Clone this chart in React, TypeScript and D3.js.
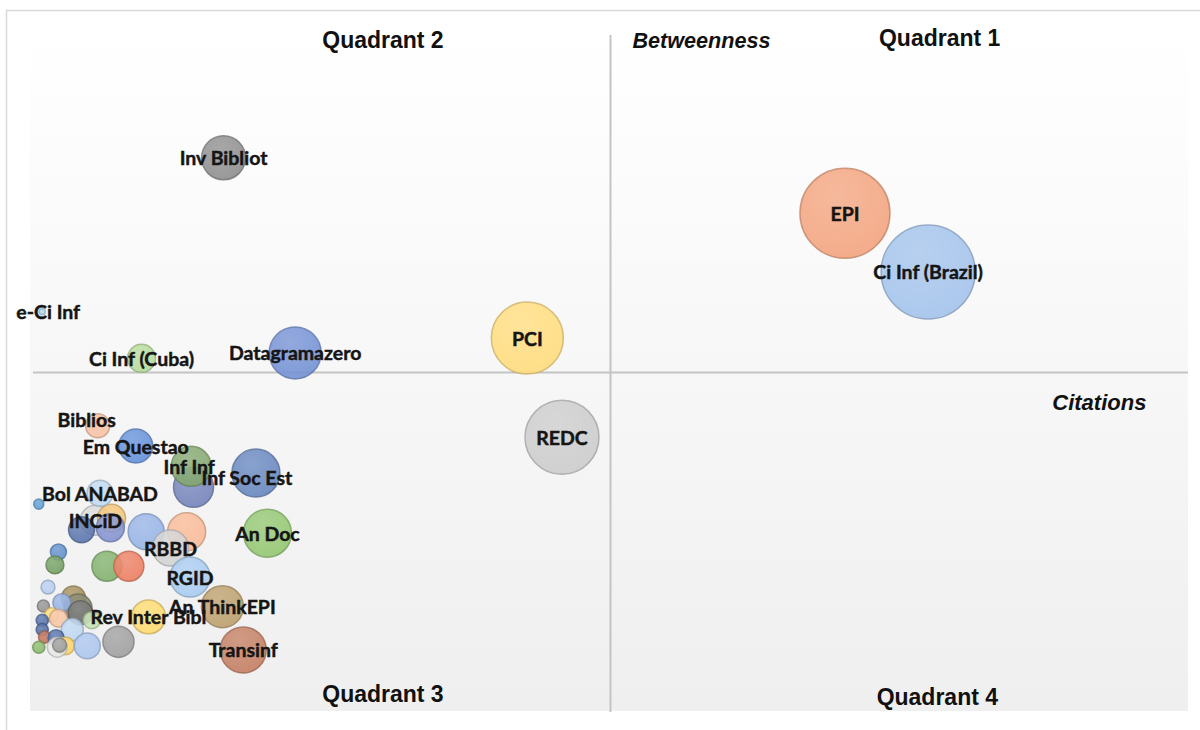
import React from "react";
import * as d3 from "d3";

// ---- Data ----
const journals = [
  "", "", "", "", "", "", "", "", "", "", "", "", "", "", "", "", "", "", "",
  "", "", "", "", "",
  "INCiD", "", "", "Bol ANABAD", "",
  "Biblios", "Em Questao", "", "Inf Inf", "Inf Soc Est",
  "", "", "RBBD", "RGID", "An Doc",
  "Rev Inter Bibl", "An ThinkEPI", "Transinf", "",
  "REDC", "PCI", "Datagramazero", "Ci Inf (Cuba)", "e-Ci Inf", "Inv Bibliot",
  "EPI", "Ci Inf (Brazil)",
];

const citations = [
  1.3, 3.5, 3.9, 0.9, 2.5, 4.1, 1.6, 2.2, 0.8, 5.1, 3.4, 0.8, 1.0, 2.0, 2.8, 4.7, 0.5, 2.1, 2.3,
  2.2, 1.9, 6.4, 8.3, 0.5,
  5.4, 6.8, 4.2, 5.8, 6.7,
  5.6, 8.9, 13.9, 13.7, 19.3,
  9.8, 13.3, 11.9, 13.6, 20.3,
  10.0, 16.4, 18.2, 7.4,
  45.8, 42.8, 22.7, 9.4, 0.8, 16.5,
  70.3, 77.5,
];

const betweenness = [
  18.2, 16.6, 15.1, 15.4, 15.9, 14.4, 14.1, 13.6, 13.3, 13.3, 11.9, 11.9, 10.8, 10.7, 9.5, 9.5, 9.3, 9.3, 9.6,
  23.4, 21.5, 21.3, 21.3, 30.5,
  28.1, 28.4, 26.7, 32.1, 27.0,
  42.1, 39.1, 33.0, 36.1, 35.1,
  26.4, 26.4, 24.0, 19.7, 26.2,
  13.8, 15.3, 8.9, 10.1,
  40.4, 55.1, 52.9, 52.1, 59.0, 81.8,
  73.6, 64.9,
];

const bubbleSize = [
  2.1, 6.3, 8.5, 1.6, 3.5, 6.3, 2.1, 3.5, 1.6, 3.2, 5.3, 1.6, 1.6, 2.8, 3.5, 7.3, 1.6, 4.3, 2.1,
  2.8, 3.5, 9.8, 9.8, 1.1,
  9.8, 8.5, 7.3, 7.3, 8.5,
  6.3, 12.5, 17.4, 17.4, 25.0,
  14.1, 15.7, 14.1, 17.4, 25.0,
  12.5, 19.1, 23.0, 10.5,
  59.4, 56.3, 29.3, 8.5, 0.4, 21.0,
  87.9, 95.9,
];

const palette = [
  "#B4CBEF", "#A08A55", "#7E8064", "#8E8E8E", "#93B1E4", "#6E6E6E", "#FFDB6E", "#F8C3A0", "#4E6DA8", "#C2DFAE", "#BCD5F0", "#4A68A0", "#BE6E55", "#4F6CA8", "#FFD35E", "#A9C4EE", "#86B865", "#E6E6E6", "#9A9A9A",
  "#5B8DCB", "#6F9C5C", "#7DAE68", "#EC7A5C", "#5B9BD5",
  "#DADADA", "#F2C372", "#5470A8", "#BFD8F0", "#7F90CF",
  "#F8BFA0", "#5E8DD8", "#6F80B8", "#7FA46A", "#6283BD",
  "#93B2E6", "#F9B793", "#D2D2D2", "#A6C9F0", "#8FC56C",
  "#FFDA6A", "#B99C68", "#C27A5C", "#9C9C9C",
  "#CBCBCB", "#FFDB77", "#6E8DD3", "#B3DB98", "#A9D6EA", "#8A8A8A",
  "#F3A07A", "#9FC0EA",
];

const labelOffsets: Record<string, [number, number]> = {
  Biblios: [-11, -6],
  "Inf Soc Est": [-9, 4],
  "e-Ci Inf": [6, 0],
  "Inf Inf": [-2, 0],
};

const quadrantLabels = [
  { text: "Quadrant 2", cx: 30.3, cy: 99.3 },
  { text: "Quadrant 1", cx: 78.5, cy: 99.5 },
  { text: "Quadrant 3", cx: 30.3, cy: 2.4 },
  { text: "Quadrant 4", cx: 78.3, cy: 2.0 },
];

const W = 1200;
const H = 730;

export default function App() {
  const xScale = d3.scaleLinear().domain([0, 100]).range([33, 1188]);
  const yScale = d3.scaleLinear().domain([0, 100]).range([710, 35]);
  const rScale = d3.scaleSqrt().domain([0, 100]).range([0, 48]);

  const points = journals.map((name, i) => ({
    name,
    x: citations[i],
    y: betweenness[i],
    s: bubbleSize[i],
    color: palette[i],
  }));

  const labelFont = "Lato, 'Open Sans', sans-serif";
  const titleFont = "'Liberation Sans', Arial, sans-serif";

  return (
    <svg
      width={W}
      height={H}
      style={{ position: "absolute", left: 0, top: 0, background: "#fff" }}
    >
      <defs>
        <linearGradient id="plotBg" x1="0" y1="0" x2="0" y2="1">
          <stop offset="0%" stopColor="#ffffff" />
          <stop offset="100%" stopColor="#efefef" />
        </linearGradient>
        <radialGradient id="shine" cx="40%" cy="30%" r="75%">
          <stop offset="0%" stopColor="#ffffff" stopOpacity={0.15} />
          <stop offset="100%" stopColor="#ffffff" stopOpacity={0} />
        </radialGradient>
      </defs>

      {/* outer frame */}
      <rect x={6.5} y={10.5} width={1200} height={730} fill="#fff" stroke="#d9d9d9" strokeWidth={1.5} />
      {/* plot background */}
      <rect x={30} y={30} width={1158} height={681} fill="url(#plotBg)" />

      {/* quadrant axes */}
      <line
        x1={xScale(0)}
        x2={xScale(100)}
        y1={yScale(50)}
        y2={yScale(50)}
        stroke="#c4c4c4"
        strokeWidth={2}
      />
      <line
        x1={xScale(50)}
        x2={xScale(50)}
        y1={yScale(100)}
        y2={yScale(0) + 2}
        stroke="#c4c4c4"
        strokeWidth={2}
      />

      {/* bubbles */}
      <g>
        {points.map((p, i) => {
          const c = d3.color(p.color)!;
          const stroke = c.darker(0.7).formatHex();
          const r = rScale(p.s);
          return (
            <g key={i}>
              <circle
                cx={xScale(p.x)}
                cy={yScale(p.y)}
                r={r}
                fill={p.color}
                fillOpacity={0.88}
                stroke={stroke}
                strokeOpacity={0.75}
                strokeWidth={1.5}
              />
              <circle cx={xScale(p.x)} cy={yScale(p.y)} r={r} fill="url(#shine)" />
            </g>
          );
        })}
      </g>

      {/* bubble labels */}
      <g>
        {points
          .filter((p) => p.name)
          .map((p, i) => {
            const off = labelOffsets[p.name] || [0, 0];
            return (
              <text
                key={i}
                x={xScale(p.x) + off[0]}
                y={yScale(p.y) + off[1]}
                textAnchor="middle"
                dominantBaseline="central"
                fontFamily={labelFont}
                fontWeight="bold"
                fontSize={19.5}
                fill="#151515"
                stroke="#151515"
                strokeWidth={0.45}
              >
                {p.name}
              </text>
            );
          })}
      </g>

      {/* quadrant labels */}
      {quadrantLabels.map((q) => (
        <text
          key={q.text}
          x={xScale(q.cx)}
          y={yScale(q.cy)}
          textAnchor="middle"
          dominantBaseline="central"
          fontFamily={titleFont}
          fontWeight="bold"
          fontSize={23}
          fill="#111"
        >
          {q.text}
        </text>
      ))}

      {/* axis titles */}
      <text
        x={xScale(51.9)}
        y={yScale(99.2)}
        dominantBaseline="central"
        fontFamily={titleFont}
        fontWeight="bold"
        fontStyle="italic"
        fontSize={21.6}
        fill="#111"
      >
        Betweenness
      </text>
      <text
        x={xScale(96.4)}
        y={yScale(45.5)}
        textAnchor="end"
        dominantBaseline="central"
        fontFamily={titleFont}
        fontWeight="bold"
        fontStyle="italic"
        fontSize={22}
        fill="#111"
      >
        Citations
      </text>
    </svg>
  );
}
